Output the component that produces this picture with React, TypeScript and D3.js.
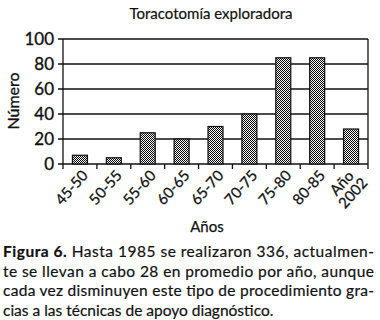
import React from "react";
import * as d3 from "d3";

const categories = ["45-50", "50-55", "55-60", "60-65", "65-70", "70-75", "75-80", "80-85", "Año 2002"];
const values = [7, 5, 25, 20, 30, 40, 85, 85, 28];
const yTicks = [0, 20, 40, 60, 80, 100];

const captionLines = [
  "Hasta 1985 se realizaron 336, actualmen-",
  "te se llevan a cabo 28 en promedio por año, aunque",
  "cada vez disminuyen este tipo de procedimiento gra-",
  "cias a las técnicas de apoyo diagnóstico.",
];

const W = 380;
const H = 320;
const dm = { left: 63, right: 368, top: 39, bottom: 164 };
const font = "Lato, 'Open Sans', sans-serif";
const ink = "#111";

export default function App() {
  const x = d3.scaleBand<string>().domain(categories).range([dm.left, dm.right]).paddingInner(0).paddingOuter(0);
  const y = d3.scaleLinear().domain([0, 100]).range([dm.bottom, dm.top]);
  const barW = 15;
  // scanned text looks heavier, thicken it a bit
  const heavy = { stroke: ink, strokeWidth: 0.35, fill: ink };

  return (
    <svg width={W} height={H} style={{ position: "absolute", left: 0, top: 0, background: "#fff" }}>
      <defs>
        <pattern id="checks" width={2} height={2} patternUnits="userSpaceOnUse">
          <rect width={2} height={2} fill="#fff" />
          <rect width={1} height={1} fill="#000" />
          <rect x={1} y={1} width={1} height={1} fill="#000" />
        </pattern>
      </defs>
      <text x={211} y={19} textAnchor="middle" fontFamily={font} fontSize={15} {...heavy} strokeWidth={0.2}>
        Toracotomía exploradora
      </text>

      {yTicks.map((t) => (
        <g key={t}>
          <line x1={dm.left - 5} x2={dm.right} y1={y(t)} y2={y(t)} stroke={ink} strokeWidth={1.3} />
          <text x={54} y={y(t)} dy="0.36em" textAnchor="end" fontFamily={font} fontSize={17} {...heavy}>
            {t}
          </text>
        </g>
      ))}
      <line x1={dm.left} x2={dm.left} y1={dm.top} y2={dm.bottom} stroke={ink} strokeWidth={1.3} />
      <line x1={dm.right} x2={dm.right} y1={dm.top} y2={dm.bottom} stroke={ink} strokeWidth={1.3} />

      {categories.map((c, i) => (
        <rect
          key={c}
          x={x(c)! + x.bandwidth() / 2 - barW / 2}
          y={y(values[i])}
          width={barW}
          height={y(0) - y(values[i])}
          fill="url(#checks)"
          stroke={ink}
          strokeWidth={1.2}
        />
      ))}

      {categories.map((c) => (
        <line key={c} x1={x(c)!} x2={x(c)!} y1={dm.bottom} y2={dm.bottom + 5} stroke={ink} strokeWidth={1.3} />
      ))}
      <line x1={dm.right} x2={dm.right} y1={dm.bottom} y2={dm.bottom + 5} stroke={ink} strokeWidth={1.3} />

      {categories.map((c) => {
        const cx = x(c)! + x.bandwidth() / 2;
        const parts = c.split(" ");
        return (
          <text
            key={c}
            transform={`translate(${cx + 9},${dm.bottom + 12}) rotate(-48)`}
            textAnchor="end"
            fontFamily={font}
            fontSize={15}
            {...heavy}
            strokeWidth={0.25}
          >
            {parts.length > 1 ? (
              <>
                <tspan x={-4} dy="-0.25em">{parts[0]}</tspan>
                <tspan x={0} dy="1.0em">{parts[1]}</tspan>
              </>
            ) : (
              c
            )}
          </text>
        );
      })}

      <text x={207} y={232} textAnchor="middle" fontFamily={font} fontSize={15} {...heavy} strokeWidth={0.25}>
        Años
      </text>
      <text transform="translate(19,101) rotate(-90)" textAnchor="middle" fontFamily={font} fontSize={16} {...heavy}>
        Número
      </text>

      {captionLines.map((line, i) => (
        <text
          key={i}
          x={3}
          y={257 + i * 19.6}
          fontFamily={font}
          fontSize={15.5}
          {...heavy}
          strokeWidth={0.2}
          textLength={i < 3 ? 371 : undefined}
          lengthAdjust="spacing"
        >
          {i === 0 ? (
            <>
              <tspan fontWeight={700}>Figura 6.</tspan> {line}
            </>
          ) : (
            line
          )}
        </text>
      ))}
    </svg>
  );
}
